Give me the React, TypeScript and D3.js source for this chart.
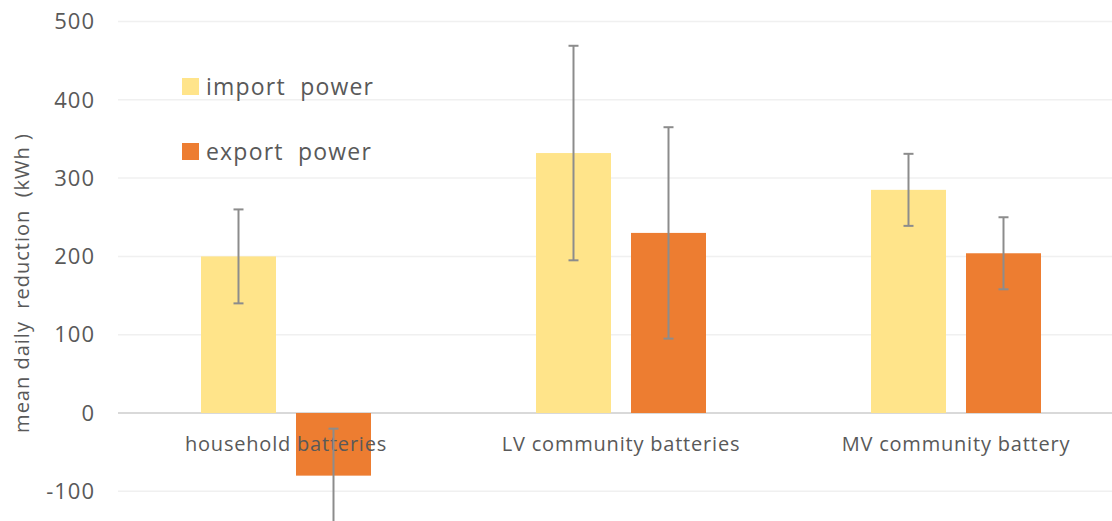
import React from "react";
import * as d3 from "d3";

const categories = ["household batteries", "LV community batteries", "MV community battery"];
const seriesNames = ["import  power", "export  power"];
const importValues = [200, 332, 285];
const importErrors = [60, 137, 46];
const exportValues = [-80, 230, 204];
const exportErrors = [60, 135, 46];
const yTicks = [-100, 0, 100, 200, 300, 400, 500];
const yTitle = "mean daily  reduction  (kWh )";

const W = 1112;
const H = 521;
const colors = ["#FFE48A", "#ED7D31"];
const textColor = "#595959";
const font = "'Open Sans', 'DejaVu Sans', sans-serif";
const pre: React.CSSProperties = { whiteSpace: "pre" };

export default function App() {
  const y = d3.scaleLinear().domain([0, 500]).range([413, 21.5]);
  const x0 = d3.scaleBand<string>().domain(categories).range([118.5, 1123.5]).paddingInner(0).paddingOuter(0);
  const barW = 75;
  const gap = 20;
  const series = [
    { vals: importValues, errs: importErrors },
    { vals: exportValues, errs: exportErrors },
  ];
  const barX = (ci: number, si: number) => {
    const c = (x0(categories[ci]) as number) + x0.bandwidth() / 2;
    return si === 0 ? c - gap / 2 - barW : c + gap / 2;
  };

  return (
    <div style={{ position: "absolute", left: 0, top: 0 }}>
      <svg width={W} height={H} style={{ display: "block", background: "#fff" }}>
        <g>
          {yTicks.map((t) => (
            <line key={"g" + t} x1={118} x2={W} y1={y(t)} y2={y(t)} stroke={t === 0 ? "#d9d9d9" : "#f0f0f0"} strokeWidth={t === 0 ? 2 : 1.5} />
          ))}
          {yTicks.map((t) => (
            <text key={"t" + t} x={95} y={y(t)} dy="0.35em" textAnchor="end" fontFamily={font} fontSize={22} letterSpacing={1} fill={textColor}>
              {t}
            </text>
          ))}
        </g>
        <text
          transform={`translate(29, 283) rotate(-90)`}
          textAnchor="middle"
          fontFamily={font}
          fontSize={20}
          letterSpacing={1}
          fill={textColor}
          style={pre}
        >
          {yTitle}
        </text>
        {series.map((s, si) =>
          s.vals.map((v, ci) => (
            <rect key={`b${si}-${ci}`} x={barX(ci, si)} width={barW} y={Math.min(y(v), y(0))} height={Math.abs(y(v) - y(0))} fill={colors[si]} />
          ))
        )}
        {categories.map((c) => (
          <text key={c} x={(x0(c) as number) + x0.bandwidth() / 2} y={444} dy="0.35em" textAnchor="middle" fontFamily={font} fontSize={20} letterSpacing={0.8} fill={textColor}>
            {c}
          </text>
        ))}
        {series.map((s, si) =>
          s.vals.map((v, ci) => {
            const cx = barX(ci, si) + barW / 2;
            const top = y(v + s.errs[ci]);
            const bot = y(v - s.errs[ci]);
            return (
              <g key={`e${si}-${ci}`} stroke="#8c8c8c" strokeWidth={2}>
                <line x1={cx} x2={cx} y1={top} y2={bot} />
                <line x1={cx - 5} x2={cx + 5} y1={top} y2={top} />
                <line x1={cx - 5} x2={cx + 5} y1={bot} y2={bot} />
              </g>
            );
          })
        )}
        {seriesNames.map((n, i) => (
          <g key={n}>
            <rect x={182} y={78 + i * 65} width={17} height={17} fill={colors[i]} />
            <text x={206} y={95 + i * 65} fontFamily={font} fontSize={23} fill={textColor} letterSpacing={1.2} style={pre}>
              {n}
            </text>
          </g>
        ))}
      </svg>
    </div>
  );
}
